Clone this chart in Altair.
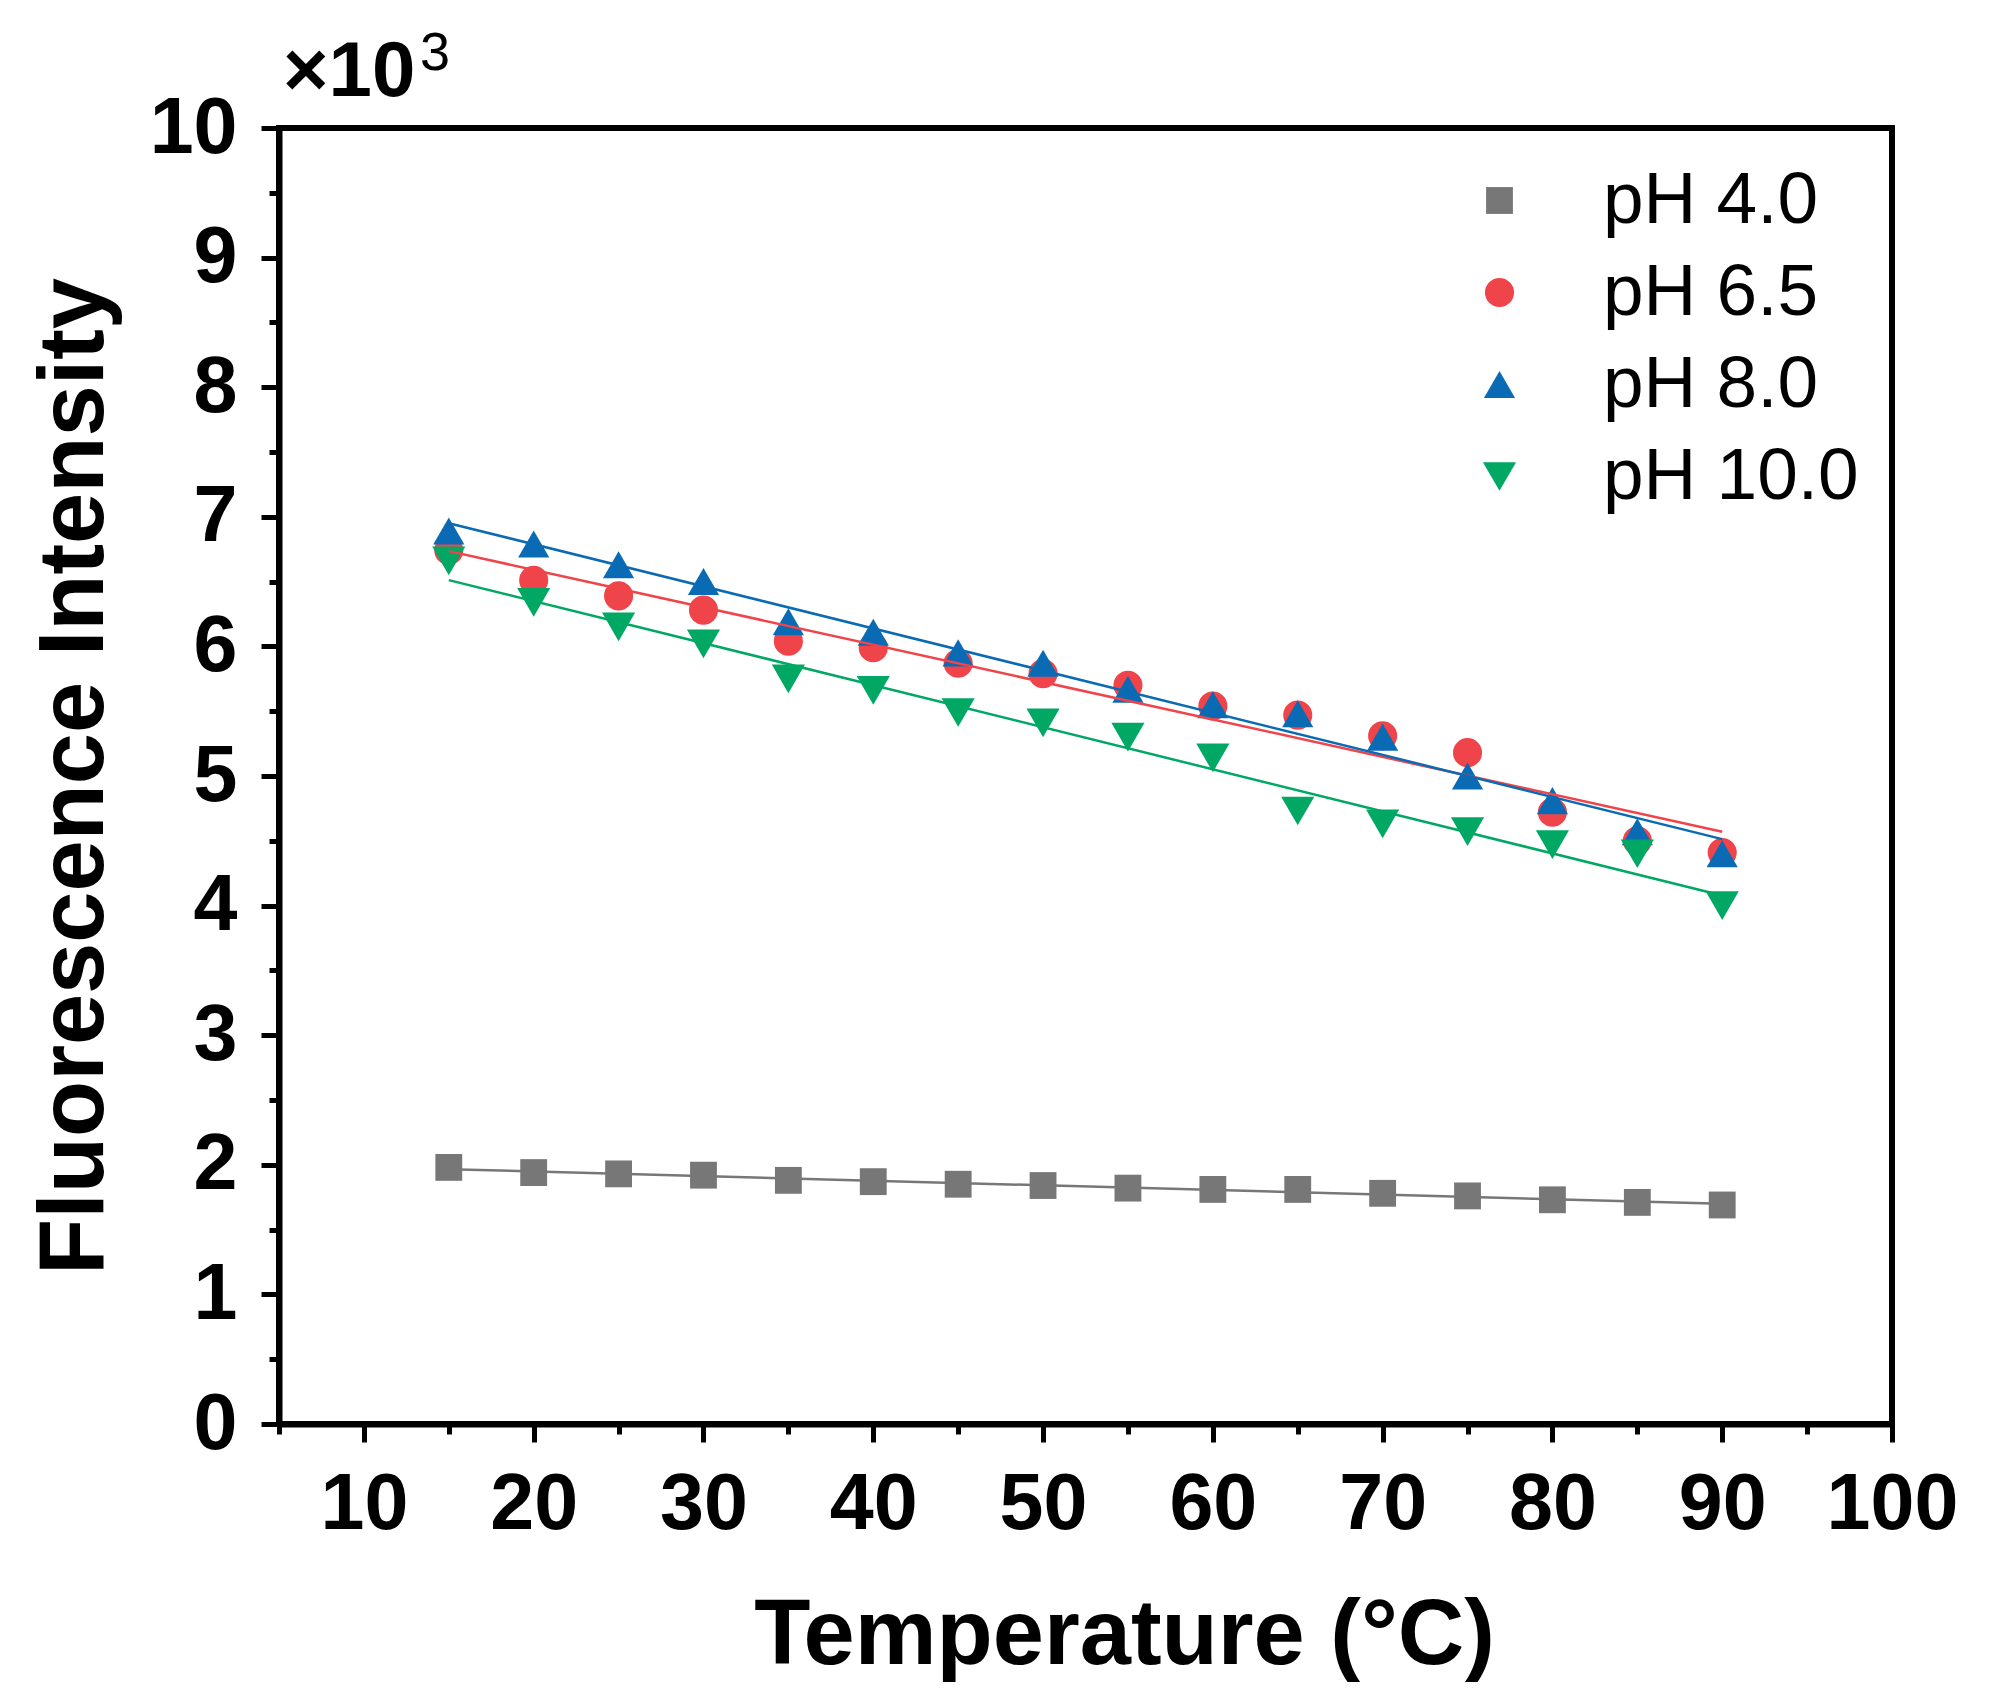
import altair as alt
import pandas as pd

# Temperature (°C) and fluorescence intensity (x10^3)
temperature = [15, 20, 25, 30, 35, 40, 45, 50, 55, 60, 65, 70, 75, 80, 85, 90]
ph_4_0 = [1.98, 1.94, 1.93, 1.92, 1.88, 1.87, 1.85, 1.84, 1.82, 1.81, 1.81, 1.78, 1.76, 1.73, 1.71, 1.69]
ph_6_5 = [6.74, 6.51, 6.39, 6.28, 6.04, 5.99, 5.87, 5.79, 5.70, 5.54, 5.47, 5.31, 5.18, 4.72, 4.50, 4.41]
ph_8_0 = [6.89, 6.79, 6.63, 6.50, 6.19, 6.11, 5.95, 5.87, 5.67, 5.55, 5.48, 5.30, 5.00, 4.81, 4.57, 4.40]
ph_10_0 = [6.66, 6.34, 6.15, 6.02, 5.75, 5.66, 5.49, 5.41, 5.30, 5.14, 4.73, 4.63, 4.57, 4.47, 4.40, 4.00]

series_names = ['pH 4.0', 'pH 6.5', 'pH 8.0', 'pH 10.0']
series_colors = ['#777777', '#f0444b', '#0a6bb4', '#00a864']
series_shapes = ['square', 'circle', 'triangle-up', 'triangle-down']
series_sizes = [720, 1100, 2400, 2400]

rows = []
for name, values in zip(series_names, [ph_4_0, ph_6_5, ph_8_0, ph_10_0]):
    for t, v in zip(temperature, values):
        rows.append({'temp': t, 'intensity': v, 'series': name})
df = pd.DataFrame(rows)

FONT = 'Liberation Sans'

color_scale = alt.Scale(domain=series_names, range=series_colors)
shape_scale = alt.Scale(domain=series_names, range=series_shapes)
size_scale = alt.Scale(domain=series_names, range=series_sizes)

x_axis = alt.Axis(
    values=list(range(5, 101, 5)),
    labelExpr="datum.value % 10 === 0 ? format(datum.value, 'd') : ''",
    tickSize={'condition': {'test': 'datum.value % 10 === 0', 'value': 18}, 'value': 10},
    title='Temperature (°C)',
    titleX=845,
    titlePadding=46,
    labelPadding=24,
    labelFlush=False,
    labelOverlap=False,
)
y_axis = alt.Axis(
    values=[i * 0.5 for i in range(21)],
    labelExpr="datum.value % 1 === 0 ? format(datum.value, 'd') : ''",
    tickSize={'condition': {'test': 'datum.value % 1 === 0', 'value': 18}, 'value': 10},
    title='Fluorescence Intensity',
    titlePadding=28,
    labelPadding=24,
    labelOverlap=False,
)

x_enc = alt.X('temp:Q', scale=alt.Scale(domain=[5, 100], nice=False, zero=False), axis=x_axis)
y_enc = alt.Y('intensity:Q', scale=alt.Scale(domain=[0, 10], nice=False), axis=y_axis)

points = alt.Chart(df).mark_point(filled=True, opacity=1, strokeWidth=0).encode(
    x=x_enc,
    y=y_enc,
    color=alt.Color('series:N', scale=color_scale, title=None,
                    legend=alt.Legend(orient='none', legendX=1184, legendY=36,
                                      labelFont=FONT, labelFontSize=73, labelColor='black',
                                      labelLimit=500, labelOffset=67, rowPadding=18, padding=0,
                                      symbolStrokeWidth=0)),
    shape=alt.Shape('series:N', scale=shape_scale, title=None),
    size=alt.Size('series:N', scale=size_scale, title=None),
)

fits = alt.Chart(df).transform_regression(
    'temp', 'intensity', groupby=['series'], extent=[15, 90]
).mark_line(strokeWidth=2.5).encode(
    x=x_enc,
    y=y_enc,
    color=alt.Color('series:N', scale=color_scale, legend=None),
)

# "x10^3" multiplier above the y axis
multiplier = alt.Chart(pd.DataFrame({'label': ['×10']})).mark_text(
    align='left', baseline='alphabetic', font=FONT, fontSize=78, fontWeight='bold', color='black'
).encode(text='label:N', x=alt.value(4), y=alt.value(-32))
exponent = alt.Chart(pd.DataFrame({'label': ['3']})).mark_text(
    align='left', baseline='alphabetic', font=FONT, fontSize=54, color='black'
).encode(text='label:N', x=alt.value(141), y=alt.value(-58))

chart = alt.layer(points, fits, multiplier, exponent).properties(
    width=1613,
    height=1296,
    autosize=alt.AutoSizeParams(type='none'),
    padding={'left': 271, 'top': 120, 'right': 80, 'bottom': 258},
).configure_view(
    stroke='black', strokeWidth=6
).configure_axis(
    grid=False,
    domainColor='black',
    domainWidth=6,
    tickColor='black',
    tickWidth=5,
    labelFont=FONT,
    labelFontSize=79,
    labelFontWeight='bold',
    labelColor='black',
    titleFont=FONT,
    titleFontSize=92,
    titleFontWeight='bold',
    titleColor='black',
)

chart.save('out.html', embed_options={'renderer': 'svg', 'actions': False})
